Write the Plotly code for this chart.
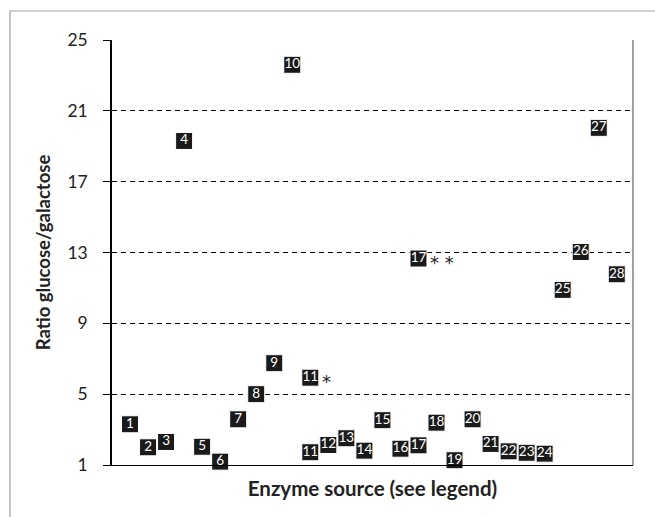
import plotly.graph_objects as go

# Enzyme source index (x position), ratio glucose/galactose, label
positions = [1, 2, 3, 4, 5, 6, 7, 8, 9, 10, 11, 11, 12, 13, 14, 15, 16, 17, 17,
             18, 19, 20, 21, 22, 23, 24, 25, 26, 27, 28]
ratios = [3.3, 2.0, 2.3, 19.3, 2.03, 1.19, 3.58, 5.0, 6.75, 23.6, 1.72, 5.93,
          2.13, 2.51, 1.81, 3.53, 1.92, 2.11, 12.66, 3.39, 1.27, 3.58, 2.19,
          1.77, 1.69, 1.64, 10.89, 13.03, 20.04, 11.77]
labels = ["1", "2", "3", "4", "5", "6", "7", "8", "9", "10", "11", "11", "12",
          "13", "14", "15", "16", "17", "17", "18", "19", "20", "21", "22",
          "23", "24", "25", "26", "27", "28"]
notes = ["", "", "", "", "", "", "", "", "", "", "", "*", "", "", "", "", "",
         "", "* *", "", "", "", "", "", "", "", "", "", "", ""]
y_ticks = [1, 5, 9, 13, 17, 21, 25]

FONT = "Lato"

fig = go.Figure()
fig.add_trace(go.Scatter(
    x=positions, y=ratios, mode="markers+text", text=labels,
    textposition="middle center",
    textfont=dict(family=FONT, size=13.5, color="white"),
    marker=dict(symbol="square", size=17, color="#1a1a1a",
                line=dict(color="white", width=1)),
    showlegend=False, hoverinfo="skip", cliponaxis=False,
))

annotations = []
for xv, yv, note in zip(positions, ratios, notes):
    if note:
        annotations.append(dict(
            x=xv, y=yv, xref="x", yref="y", text=note, showarrow=False,
            xanchor="left", yanchor="middle", xshift=10, yshift=-4,
            font=dict(family="DejaVu Sans", size=18, color="#222"),
        ))

fig.update_layout(
    width=655, height=517,
    margin=dict(l=112, r=22, t=40, b=52, pad=0),
    paper_bgcolor="white", plot_bgcolor="white",
    font=dict(family=FONT, color="#222"),
    annotations=annotations,
    shapes=[
        dict(type="line", xref="paper", yref="paper", x0=1, x1=1, y0=0, y1=1,
             line=dict(color="#808080", width=1.5)),
        dict(type="rect", xref="paper", yref="paper",
             x0=(10 - 112) / 521, x1=(665 - 112) / 521,
             y0=(465 - 530) / 425, y1=(465 - 11) / 425,
             line=dict(color="#a0a0a0", width=1.2), layer="below"),
    ],
)
fig.update_xaxes(
    range=[0, 28.9], showticklabels=False, ticks="", showgrid=False,
    zeroline=False, showline=True, linecolor="black", linewidth=1,
    title=dict(text="<b>Enzyme source (see legend)</b>", standoff=16,
               font=dict(family=FONT, size=20.5, color="#222")),
)
fig.update_yaxes(
    range=[1, 25], tickvals=y_ticks, ticks="outside", ticklen=7,
    tickcolor="black", tickwidth=1, ticklabelstandoff=12,
    tickfont=dict(family=FONT, size=17.5, color="#222"),
    showgrid=True, gridcolor="black", gridwidth=1, griddash="5px,4px",
    zeroline=False, showline=True, linecolor="black", linewidth=1.5,
    title=dict(text="<b>Ratio glucose/galactose</b>", standoff=12,
               font=dict(family=FONT, size=18.5, color="#222")),
)

fig.write_html("out.html", config={"displayModeBar": False})
